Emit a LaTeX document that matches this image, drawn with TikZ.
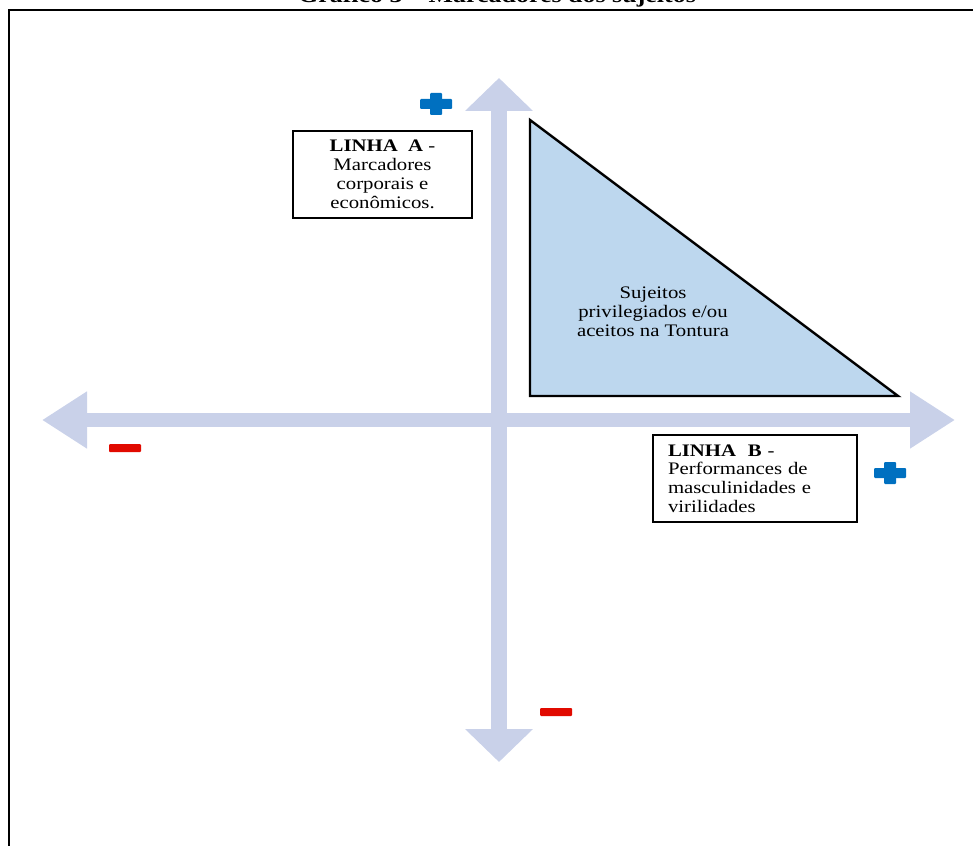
\documentclass[tikz,border=0pt]{standalone}
\usepackage{fontspec}
\setmainfont[FakeStretch=1.18]{Liberation Serif}
\usetikzlibrary{arrows.meta}
\definecolor{axiscol}{RGB}{201,209,233}
\definecolor{trifill}{RGB}{189,215,238}
\definecolor{plusblue}{RGB}{0,112,192}
\definecolor{minusred}{RGB}{225,10,0}
\tikzset{
  axish/.style={line width=7pt, axiscol,
    {Triangle[width=27pt,length=22.5pt]}-{Triangle[width=27pt,length=22.5pt]}},
  axisv/.style={line width=8pt, axiscol,
    {Triangle[width=33pt,length=16.5pt]}-{Triangle[width=33pt,length=16.5pt]}},
  txtbox/.style={draw, line width=0.8pt, fill=white, minimum height=43.5pt,
    font=\fontsize{8.8}{9.4}\selectfont},
  pics/plus/.style={code={
    \fill[plusblue, rounded corners=0.5pt] (-16,-5) rectangle (16,5);
    \fill[plusblue, rounded corners=0.5pt] (-6,-11) rectangle (6,11);}},
  pics/minus/.style={code={
    \fill[minusred, rounded corners=0.5pt] (-16,-4) rectangle (16,4);}}
}
\begin{document}
\begin{tikzpicture}[x=0.5pt, y=-0.5pt]
\useasboundingbox (0,0) rectangle (973,845);

\node[anchor=base, font=\bfseries\fontsize{11}{13}\selectfont] (titulo)
    at (497,3) {Gráfico 3 – Marcadores dos sujeitos};
\draw[line width=1pt]
    (990,10) -| (9,860);

\coordinate (axW) at (42,420);
\coordinate (axE) at (955,420);
\coordinate (axN) at (499,78);
\coordinate (axS) at (499,762);
\draw[axish] (axW) -- (axE);
\draw[axisv] (axN) -- (axS);

\draw[line width=1.2pt, fill=trifill]
    (530,120) -- (530,396) -- (898,396) -- cycle;
\node[align=center, font=\fontsize{8.8}{9.4}\selectfont] (grupo)
    at (653,312) {Sujeitos\\privilegiados e/ou\\aceitos na Tontura};

\node[txtbox, minimum width=89.5pt, align=center] (linhaA)
    at (382.5,174.5) {\textbf{LINHA\ \ A} -\\Marcadores\\corporais e\\econômicos.};
\node[txtbox, text width=87pt, inner xsep=7.5pt, align=left] (linhaB)
    at (755,478.5) {\textbf{LINHA\ \ B} -\\Performances de\\masculinidades e\\virilidades};

\pic (maisA) at (436,104) {plus};
\pic (maisB) at (890,473) {plus};
\pic (menosB) at (125,448) {minus};
\pic (menosA) at (556,712) {minus};
\end{tikzpicture}
\end{document}
